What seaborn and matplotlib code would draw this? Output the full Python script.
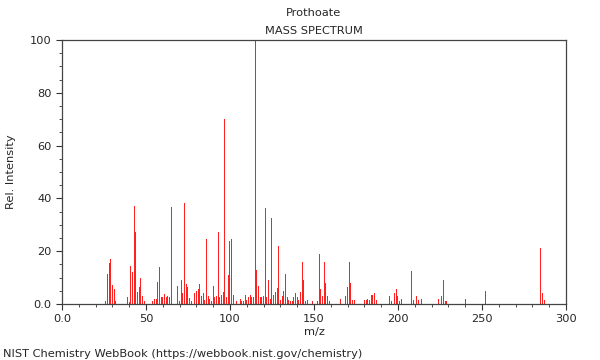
import matplotlib
matplotlib.use('Agg')
import matplotlib.pyplot as plt
import seaborn as sns
from matplotlib.ticker import MultipleLocator, FuncFormatter

# Peak list (m/z, relative intensity)
mz = [26, 27, 28, 29, 30, 31, 32, 39, 40, 41, 42, 43, 44, 45, 46, 47, 48, 49,
      54, 55, 56, 57, 58, 59, 60, 61, 62, 63, 64, 65, 69, 70, 71, 72, 73, 74, 75, 76,
      77, 79, 80, 81, 82, 83, 84, 85, 86, 87, 88, 89, 90, 91, 92, 93, 94, 95, 96,
      97, 98, 99, 100, 101, 102, 104, 106, 107, 108, 109, 110, 111, 112, 113, 114,
      115, 116, 117, 118, 119, 120, 121, 122, 123, 124, 125, 126, 127, 128, 129,
      130, 131, 132, 133, 134, 135, 136, 137, 138, 139, 140, 141, 142, 143, 144,
      145, 146, 149, 152, 153, 154, 155, 156, 157, 158, 159, 166, 169, 170, 171,
      172, 173, 174, 180, 181, 182, 183, 184, 185, 186, 187, 195, 196, 198, 199,
      200, 201, 202, 208, 209, 211, 212, 214, 224, 226, 227, 228, 229, 240, 252,
      285, 286, 287]
intensity = [1, 11.4, 15.4, 16.9, 7.2, 5.8, 1, 2.5, 0.6, 14.4, 12.1, 37.1, 27.4, 4.7, 6.6, 9.8, 3, 1,
             1, 2, 2, 8.5, 13.9, 2.6, 2.5, 3.7, 2.5, 3, 2.5, 36.9, 6.8, 1, 9.1, 4.3, 38.4, 7.7, 6.6, 2.2,
             1, 4, 4.8, 5.5, 7.6, 3, 4.3, 1.5, 24.6, 3, 2, 1, 6.7, 2.5, 3, 27.4, 2.5, 3.5, 4.5,
             70.2, 2.5, 11, 23.9, 24.6, 3.5, 1, 2, 1, 1, 3.5, 1.5, 2.5, 3.5, 2.5, 2.5,
             100, 12.9, 6.9, 2.5, 2.5, 3, 36.5, 2.5, 9, 2, 32.4, 3.5, 4.5, 6, 21.8,
             1.5, 3, 5, 11.2, 2.5, 1.5, 1, 1, 2.5, 4, 2.5, 1.5, 4.5, 15.9, 9,
             1, 1.5, 1, 1, 18.9, 5.6, 3, 15.8, 7.9, 3, 1, 2, 3, 6.5, 15.9,
             7.9, 1.5, 1.5, 1.5, 1.5, 2, 1.5, 3.5, 3.5, 4, 1.5, 3, 1, 4, 5.5,
             3, 1, 2, 12.6, 1.5, 3, 1.5, 2, 2, 3, 9, 1, 1, 2, 5,
             21.2, 4, 1.5]

title = 'Prothoate'
subtitle = 'MASS SPECTRUM'
footer = 'NIST Chemistry WebBook (https://webbook.nist.gov/chemistry)'

sns.set_style('ticks')
plt.rcParams['font.family'] = ['DejaVu Sans']
plt.rcParams['font.size'] = 8

fig = plt.figure(figsize=(6, 3.6), dpi=100)
ax = fig.add_axes([0.1033, 0.1556, 0.84, 0.7333])

sns.histplot(x=mz, weights=intensity, discrete=True, shrink=0.6,
             color='#ff2020', alpha=1, linewidth=0, ax=ax)

ax.set_xlim(0, 300)
ax.set_ylim(0, 100)
ax.xaxis.set_major_locator(MultipleLocator(50))
ax.xaxis.set_minor_locator(MultipleLocator(10))
ax.yaxis.set_major_locator(MultipleLocator(20))
ax.yaxis.set_minor_locator(MultipleLocator(5))
fmt = FuncFormatter(lambda v, p: '0.0' if v == 0 else f'{v:g}')
ax.xaxis.set_major_formatter(fmt)
ax.yaxis.set_major_formatter(fmt)
ax.tick_params(which='major', length=4, width=0.8, color='#333333', labelsize=8.2)
ax.tick_params(which='minor', length=2, width=0.6, color='#333333')
for side in ['top', 'bottom', 'left', 'right']:
    ax.spines[side].set_visible(True)
    ax.spines[side].set_color('#444444')
    ax.spines[side].set_linewidth(0.9)

ax.set_xlabel('m/z', fontsize=8.2)
ax.set_ylabel('Rel. Intensity', fontsize=8.2)
ax.xaxis.set_label_coords(0.5, -0.088)
ax.yaxis.set_label_coords(-0.092, 0.5)

fig.text(0.523, 0.965, title, ha='center', va='center', fontsize=8.2)
fig.text(0.523, 0.915, subtitle, ha='center', va='center', fontsize=8.2)
fig.text(0.005, 0.018, footer, ha='left', va='center', fontsize=8.2)

plt.savefig('out.png', dpi=100)
